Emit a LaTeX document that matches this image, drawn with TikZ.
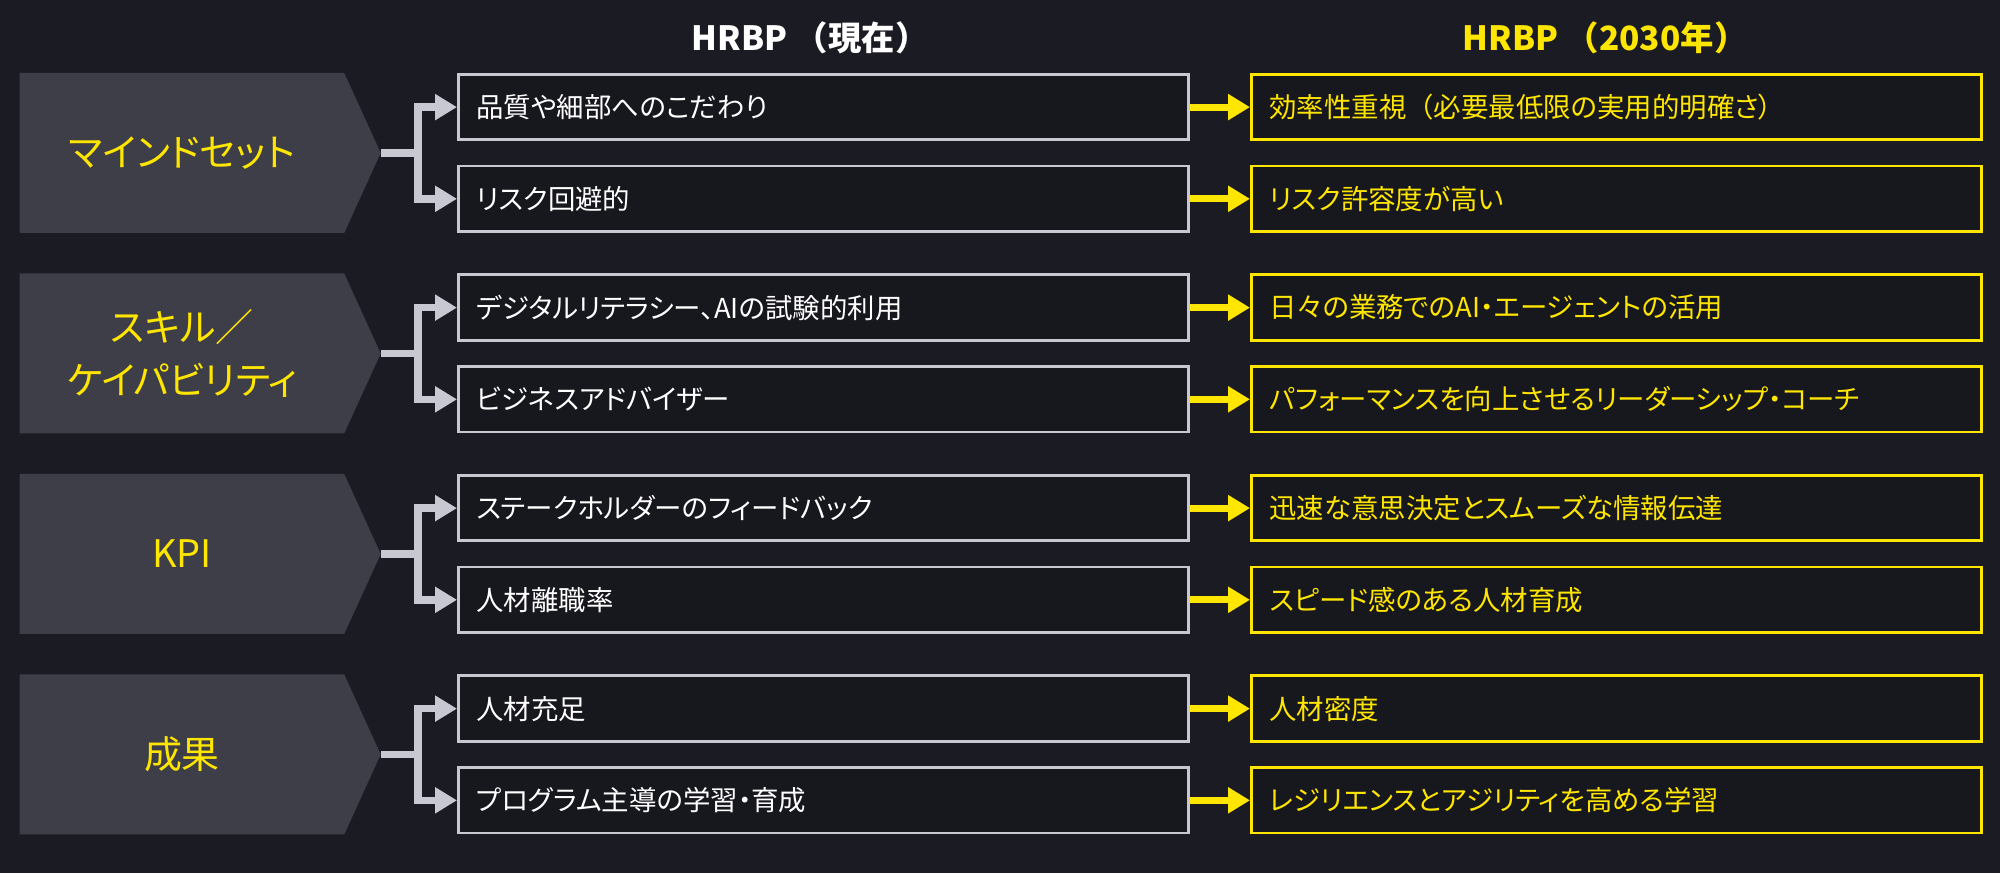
\documentclass[tikz,border=0pt]{standalone}
\usepackage{fontspec}
\usepackage{xcolor}
\usepackage{tikz}
\usetikzlibrary{shapes.symbols, arrows.meta, positioning, calc}
\newfontfamily\jpfont[RawFeature=+palt]{Noto Sans CJK JP}
\newfontfamily\jpwide{Noto Sans CJK JP}

\definecolor{bgdark}{HTML}{1B1B24}
\definecolor{catgray}{HTML}{3E3E48}
\definecolor{boxdark}{HTML}{17171E}
\definecolor{linegray}{HTML}{C8C8D2}
\definecolor{hiyellow}{HTML}{FFE600}

\tikzset{
  catbox/.style={shape=signal, signal to=east, signal pointer angle=131,
    fill=catgray, minimum width=3.61cm, minimum height=1.6cm, inner sep=0pt,
    text=hiyellow, align=center, font=\jpfont\fontsize{10.8}{15.3}\selectfont},
  nowbox/.style={draw=linegray, line width=0.8pt, fill=boxdark,
    minimum height=0.655cm, text width=6.94cm, inner xsep=0.18cm, align=left,
    text=white, font=\jpfont\fontsize{7.8}{9}\selectfont},
  futbox/.style={nowbox, draw=hiyellow, text=hiyellow},
  headtxt/.style={font=\jpwide\bfseries\fontsize{9.5}{11}\selectfont},
  stub/.style={draw=linegray, line width=0.075cm},
  conn/.style={stub, -{Triangle[length=0.22cm,width=0.25cm]}},
  futarrow/.style={draw=hiyellow, line width=0.07cm, -{Triangle[length=0.22cm,width=0.25cm]}},
}

\begin{document}
\begin{tikzpicture}
  \useasboundingbox (0,0) rectangle (20,8.73);
  \fill[bgdark] (0,0) rectangle (20,8.73);

  % 見出し
  \node[headtxt, text=white] (hnow) at (8.10,8.35) {HRBP （現在）};
  \node[headtxt, text=hiyellow] (hfut) at (16.05,8.35) {HRBP （2030年）};

  % 各カテゴリ
  \foreach \i/\cat/\nowa/\nowb/\futa/\futb in {
      1/{マインドセット}/{品質や細部へのこだわり}/{リスク回避的}/{効率性重視{\jpwide（}必要最低限の実用的明確さ）}/{リスク許容度が高い},
      2/{スキル／\\ケイパビリティ}/{デジタルリテラシー、AIの試験的利用}/{ビジネスアドバイザー}/{日々の業務でのAI・エージェントの活用}/{パフォーマンスを向上させるリーダーシップ・コーチ},
      3/{KPI}/{ステークホルダーのフィードバック}/{人材離職率}/{迅速な意思決定とスムーズな情報伝達}/{スピード感のある人材育成},
      4/{成果}/{人材充足}/{プログラム主導の学習・育成}/{人材密度}/{レジリエンスとアジリティを高める学習}}{
    \pgfmathsetmacro{\ytop}{8.00-(\i-1)*2.005}
    \node[catbox, anchor=west] (cat\i) at (0.19,\ytop-0.8) {\cat};
    \node[nowbox, anchor=north west] (nowa\i) at (4.57,\ytop) {\nowa};
    \node[nowbox, anchor=south west] (nowb\i) at (4.57,\ytop-1.6) {\nowb};
    \node[futbox, anchor=north west] (futa\i) at (12.50,\ytop) {\futa};
    \node[futbox, anchor=south west] (futb\i) at (12.50,\ytop-1.6) {\futb};
    % 分岐する矢印
    \coordinate (j\i) at (4.18,\ytop-0.8);
    \draw[stub] (cat\i.east) -- (j\i);
    \draw[conn] (j\i) |- (nowa\i.west);
    \draw[conn] (j\i) |- (nowb\i.west);
    \draw[futarrow] (nowa\i.east) -- (futa\i.west);
    \draw[futarrow] (nowb\i.east) -- (futb\i.west);
  }
\end{tikzpicture}
\end{document}
